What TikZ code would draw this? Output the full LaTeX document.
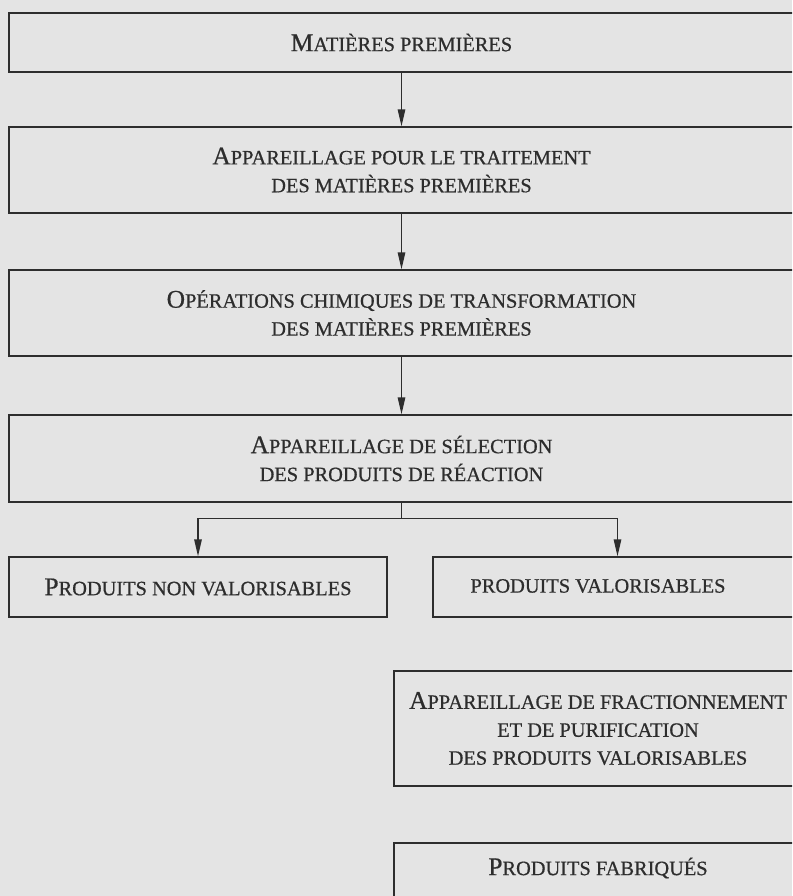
\documentclass[tikz,border=0pt]{standalone}
\usepackage{fontspec}
\setmainfont{Liberation Serif}[FakeBold=0.6]
\usetikzlibrary{arrows.meta}
\definecolor{paperGrey}{RGB}{228,228,228}
\definecolor{inkGrey}{RGB}{45,45,45}
\newcommand{\initiale}[1]{{\fontsize{14.5}{15.9}\selectfont #1}}

\begin{document}
\begin{tikzpicture}[x=0.02cm, y=-0.02cm,
   font=\fontsize{11.6}{15.9}\selectfont, text=inkGrey,
   etape/.style={draw=inkGrey, line width=0.8pt, align=center, inner sep=0pt},
   trait/.style={draw=inkGrey, line width=0.8pt},
   fleche/.style={trait, -{Triangle[length=0.34cm,width=0.15cm]}}]

  % ===== fond =====
  \fill[paperGrey] (0,0) rectangle (792,896);
  \useasboundingbox (0,0) rectangle (792,896);
  \clip (0,0) rectangle (792,896);

  % ===== chaine principale =====
  \node[etape, minimum width=15.7cm, minimum height=1.18cm] (mp) at (401.5,42.5)
        {\initiale{M}ATIÈRES PREMIÈRES};
  \node[etape, minimum width=15.7cm, minimum height=1.72cm] (traitement) at (401.5,170)
        {\initiale{A}PPAREILLAGE POUR LE TRAITEMENT\\DES MATIÈRES PREMIÈRES};
  \node[etape, minimum width=15.7cm, minimum height=1.72cm] (chim) at (401.5,313)
        {\initiale{O}PÉRATIONS CHIMIQUES DE TRANSFORMATION\\DES MATIÈRES PREMIÈRES};
  \node[etape, minimum width=15.7cm, minimum height=1.74cm] (sel) at (401.5,458.5)
        {\initiale{A}PPAREILLAGE DE SÉLECTION\\DES PRODUITS DE RÉACTION};

  % ===== produits =====
  \node[etape, minimum width=7.56cm, minimum height=1.2cm] (pnv) at (198,587)
        {\initiale{P}RODUITS NON VALORISABLES};
  \node[etape, minimum width=7.38cm, minimum height=1.2cm,
        label={[xshift=-0.39cm, yshift=0.02cm]center:PRODUITS VALORISABLES}] (pv) at (617.5,587) {};
  \node[etape, minimum width=8.16cm, minimum height=2.3cm] (fract) at (598,728.5)
        {\initiale{A}PPAREILLAGE DE FRACTIONNEMENT\\ET DE PURIFICATION\\DES PRODUITS VALORISABLES};
  \node[etape, minimum width=8.16cm, minimum height=1.24cm,
        label={[yshift=0.12cm]center:\initiale{P}RODUITS FABRIQUÉS}] (fab) at (598,874) {};

  % ===== fleches =====
  \draw[fleche] (mp) -- (traitement);
  \draw[fleche] (traitement) -- (chim);
  \draw[fleche] (chim) -- (sel);
  \coordinate (fourche) at ([yshift=-0.32cm]sel.south);
  \draw[trait] (sel.south) -- (fourche);
  \draw[fleche] (fourche) -| (pnv.north);
  \draw[fleche] (fourche) -| (pv.north);

\end{tikzpicture}
\end{document}
